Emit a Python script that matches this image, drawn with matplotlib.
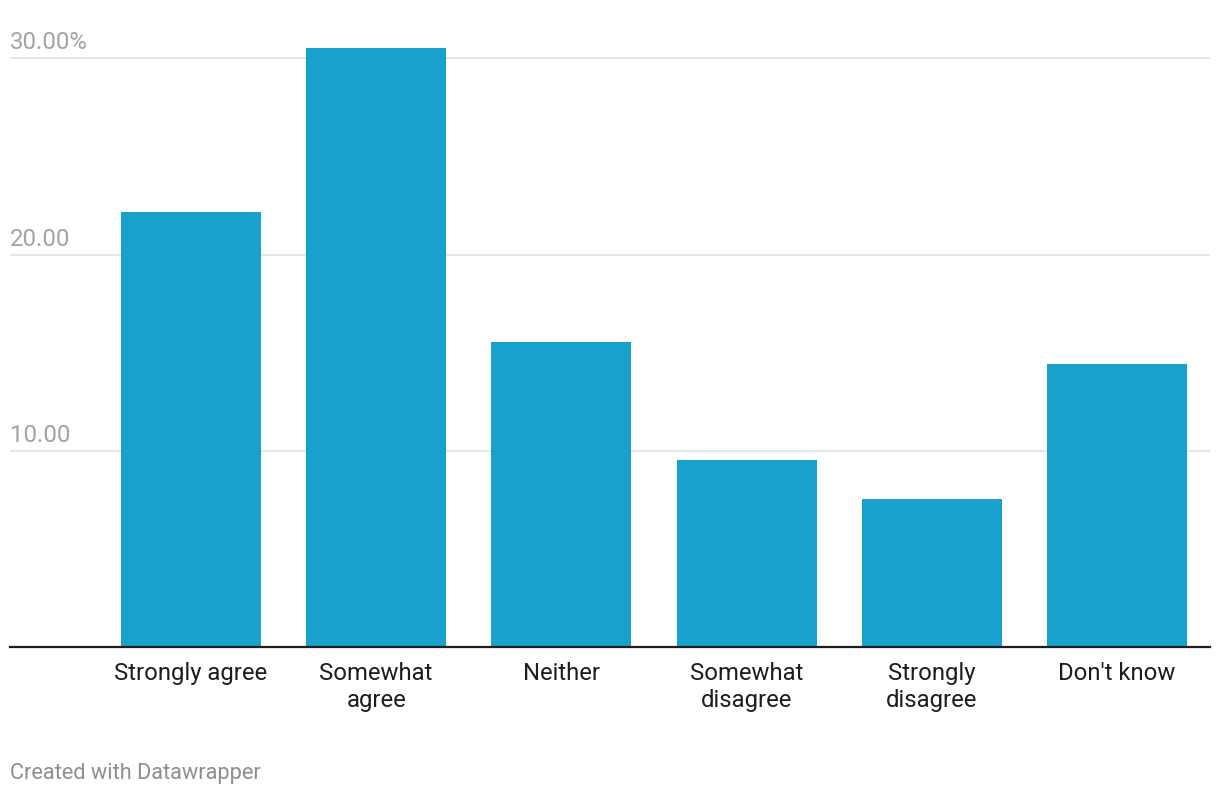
import matplotlib
matplotlib.use("Agg")
import matplotlib.pyplot as plt
import matplotlib.transforms as mtransforms

categories = ["Strongly agree", "Somewhat\nagree", "Neither", "Somewhat\ndisagree", "Strongly\ndisagree", "Don't know"]
values = [22.17, 30.53, 15.55, 9.53, 7.54, 14.42]
yticks = [10, 20, 30]
ytick_labels = ["10.00", "20.00", "30.00%"]

W, H = 1220, 796
dpi = 100
fig = plt.figure(figsize=(W / dpi, H / dpi), dpi=dpi)
plt.rcParams['font.family'] = ['Roboto', 'DejaVu Sans']

left, right = 10, 1210
base_y, top_y = 647, 58.3 - 19.62
ax = fig.add_axes([left / W, (H - base_y) / H, (right - left) / W, (base_y - top_y) / H])
ax.set_xlim(-0.977, 5.502)
ax.set_ylim(0, 31)

x = list(range(len(categories)))
ax.bar(x, values, width=0.756, color="#18a1cd", zorder=3)

for s in ["top", "right", "left"]:
    ax.spines[s].set_visible(False)
ax.spines["bottom"].set_color("#1d1d1d")
ax.spines["bottom"].set_linewidth(1.6)
ax.spines["bottom"].set_zorder(5)

ax.set_yticks(yticks)
ax.set_yticklabels([])
ax.tick_params(axis="y", length=0)
ax.yaxis.grid(True, color="#e6e6e6", linewidth=1.4, zorder=0)
ax.set_axisbelow(True)

trans = mtransforms.blended_transform_factory(ax.transAxes, ax.transData)
offset = mtransforms.ScaledTranslation(0, 9 / dpi, fig.dpi_scale_trans)
for v, lab in zip(yticks, ytick_labels):
    ax.text(0, v, lab, transform=trans + offset, ha="left", va="baseline",
            fontsize=17.3, color="#a3a3a3")

ax.set_xticks(x)
ax.set_xticklabels(categories, fontsize=17.2, color="#1d1d1d", linespacing=1.2)
ax.tick_params(axis="x", length=0, pad=11)

fig.text(10 / W, 1 - 774 / H, "Created with Datawrapper", ha="left", va="center",
         fontsize=15.7, color="#8e8e8e")

fig.savefig("out.png", dpi=dpi, facecolor="white")
